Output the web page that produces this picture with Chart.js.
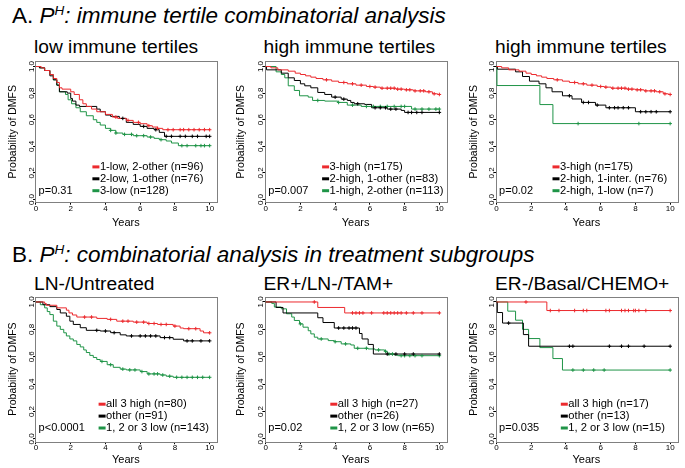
<!DOCTYPE html>
<html><head><meta charset="utf-8">
<script src="https://cdn.jsdelivr.net/npm/chart.js@4.4.1/dist/chart.umd.min.js"></script>
<style>
html,body{margin:0;padding:0;background:#fff;}
body{width:685px;height:468px;overflow:hidden;position:relative;font-family:"Liberation Sans",Arial,Helvetica,sans-serif;color:#000;}
.hdr{position:absolute;left:12px;font-size:22.5px;line-height:1;white-space:nowrap;}
.hdr sup{font-size:60%;vertical-align:0.6em;line-height:0;}
.ttl{position:absolute;font-size:19.2px;line-height:1;white-space:nowrap;}
canvas{position:absolute;}
</style></head><body>
<div class="hdr" style="top:5px">A. <i>P<sup>H</sup>: immune tertile combinatorial analysis</i></div>
<div class="hdr" style="top:244.3px">B. <i>P<sup>H</sup>: combinatorial analysis in treatment subgroups</i></div>
<script>
// ---------- tick labels ----------
const xTicks = [0, 2, 4, 6, 8, 10];
const yTicks = [0, 0.2, 0.4, 0.6, 0.8, 1.0];

// ---------- titles ----------
const panelTitles = ['low immune tertiles','high immune tertiles','high immune tertiles','LN-/Untreated','ER+/LN-/TAM+','ER-/Basal/CHEMO+'];
const pValues = ['p=0.31','p=0.007','p=0.02','p<0.0001','p=0.02','p=0.035'];

// ---------- series labels ----------
const A1_labels = ['1-low, 2-other (n=96)','2-low, 1-other (n=76)','3-low (n=128)'];
const A2_labels = ['3-high (n=175)','2-high, 1-other (n=83)','1-high, 2-other (n=113)'];
const A3_labels = ['3-high (n=175)','2-high, 1-inter. (n=76)','2-high, 1-low (n=7)'];
const B1_labels = ['all 3 high (n=80)','other (n=91)','1, 2 or 3 low (n=143)'];
const B2_labels = ['all 3 high (n=27)','other (n=26)','1, 2 or 3 low (n=65)'];
const B3_labels = ['all 3 high (n=17)','other (n=13)','1, 2 or 3 low (n=15)'];

// ---------- survival step curves [years, probability] ----------
const A1_red = [[0,1],[0.3,0.99],[0.5,0.97],[0.8,0.94],[1.0,0.91],[1.2,0.88],[1.35,0.84],[1.5,0.83],[2.0,0.81],[2.2,0.79],[2.5,0.75],[2.7,0.72],[2.9,0.70],[3.2,0.68],[3.5,0.66],[4.0,0.64],[4.4,0.62],[4.7,0.61],[5.2,0.595],[5.6,0.58],[6.0,0.57],[6.4,0.555],[6.7,0.545],[7.0,0.535],[7.3,0.525],[10,0.525]];
const A1_black = [[0,1],[0.2,0.99],[0.5,0.97],[0.8,0.93],[1.0,0.90],[1.2,0.86],[1.35,0.81],[1.8,0.80],[2.0,0.76],[2.1,0.74],[2.3,0.71],[2.5,0.70],[3.5,0.68],[3.7,0.66],[4.0,0.635],[4.3,0.625],[4.8,0.61],[5.2,0.58],[5.6,0.565],[6.0,0.55],[6.4,0.535],[6.8,0.525],[7.1,0.505],[7.4,0.475],[10,0.475]];
const A1_green = [[0,1],[0.2,0.99],[0.5,0.97],[0.8,0.94],[1.0,0.90],[1.2,0.86],[1.35,0.81],[1.7,0.79],[1.85,0.75],[2.05,0.72],[2.3,0.69],[2.55,0.66],[2.9,0.63],[3.3,0.60],[3.5,0.58],[3.7,0.56],[4.0,0.535],[4.3,0.52],[4.6,0.50],[5.0,0.49],[5.6,0.48],[6.4,0.47],[6.8,0.46],[7.1,0.45],[7.5,0.44],[7.8,0.425],[8.2,0.405],[10,0.405]];

const H3_red = [[0,1],[0.3,0.99],[0.7,0.975],[1.3,0.965],[1.7,0.95],[2.0,0.94],[2.3,0.93],[2.6,0.92],[2.9,0.91],[3.3,0.90],[3.8,0.89],[4.2,0.88],[4.7,0.87],[5.2,0.86],[5.8,0.85],[6.2,0.845],[6.6,0.837],[7.5,0.83],[8.0,0.825],[8.5,0.817],[9.2,0.81],[9.6,0.795],[9.9,0.79],[10,0.79]];
const A2_black = [[0,1],[0.05,0.975],[0.9,0.95],[1.3,0.915],[1.65,0.895],[2.0,0.87],[2.25,0.855],[2.6,0.84],[3.0,0.805],[3.4,0.79],[3.8,0.77],[4.35,0.755],[4.7,0.745],[4.9,0.73],[5.1,0.72],[5.7,0.715],[6.1,0.69],[7.0,0.68],[7.8,0.67],[8.0,0.655],[10,0.655]];
const A2_green = [[0,1],[0.6,0.96],[0.9,0.94],[1.1,0.915],[1.3,0.855],[1.65,0.82],[1.95,0.78],[2.45,0.77],[2.7,0.745],[3.4,0.74],[4.15,0.73],[4.7,0.71],[5.5,0.70],[8.4,0.68],[10,0.68]];
const A3_black = [[0,1],[0.05,0.98],[1.1,0.96],[1.5,0.925],[1.9,0.89],[2.45,0.87],[2.85,0.84],[3.2,0.81],[3.8,0.78],[4.35,0.756],[4.9,0.73],[5.7,0.71],[6.3,0.69],[8.0,0.66],[10,0.66]];
const A3_green = [[0,1],[0.03,0.857],[2.5,0.714],[3.25,0.571],[10,0.571]];

const B1_red = [[0,1],[0.5,0.988],[0.6,0.976],[1.2,0.957],[1.75,0.94],[1.9,0.92],[2.1,0.905],[2.35,0.89],[3.5,0.88],[4.1,0.873],[4.65,0.86],[5.6,0.853],[6.4,0.843],[7.0,0.836],[7.9,0.824],[8.3,0.81],[8.5,0.805],[9.45,0.788],[9.65,0.775],[10,0.775]];
const B1_black = [[0,1],[0.4,0.98],[0.8,0.966],[1.2,0.945],[1.4,0.92],[1.75,0.896],[1.95,0.86],[2.15,0.836],[2.55,0.812],[2.9,0.793],[3.7,0.788],[4.3,0.776],[4.85,0.76],[5.2,0.752],[7.15,0.74],[7.9,0.728],[8.5,0.716],[10,0.716]];
const B1_green = [[0,1],[0.25,0.98],[0.5,0.957],[0.65,0.93],[0.8,0.908],[1.0,0.86],[1.2,0.824],[1.4,0.8],[1.6,0.775],[1.75,0.752],[1.95,0.73],[2.15,0.716],[2.35,0.69],[2.55,0.672],[2.75,0.65],[2.9,0.631],[3.1,0.61],[3.3,0.595],[3.5,0.58],[3.7,0.566],[4.1,0.542],[4.45,0.523],[4.85,0.51],[5.2,0.504],[6.0,0.492],[6.4,0.475],[7.15,0.467],[7.5,0.458],[7.9,0.45],[10,0.45]];

const B2_red = [[0,1],[3.0,0.96],[4.55,0.92],[10,0.92]];
const B2_black = [[0,1],[0.6,0.96],[1.0,0.92],[3.0,0.885],[3.3,0.85],[3.95,0.81],[5.4,0.77],[5.55,0.73],[5.9,0.69],[6.2,0.62],[10,0.62]];
const B2_green = [[0,1],[0.35,0.99],[0.5,0.963],[0.9,0.95],[1.2,0.914],[1.5,0.89],[1.65,0.865],[1.95,0.84],[2.15,0.816],[2.45,0.79],[2.6,0.767],[2.8,0.743],[3.0,0.73],[3.6,0.718],[3.95,0.71],[4.35,0.694],[4.9,0.686],[5.1,0.662],[5.9,0.657],[6.3,0.65],[6.85,0.64],[7.0,0.62],[7.4,0.613],[7.6,0.608],[10,0.608]];

const B3_red = [[0,1],[2.9,0.9375],[10,0.9375]];
const B3_black = [[0,1],[0.05,0.923],[0.35,0.846],[1.55,0.762],[1.85,0.677],[10,0.677]];
const B3_green = [[0,1],[0.65,0.933],[1.1,0.867],[1.5,0.8],[1.85,0.733],[2.5,0.667],[3.25,0.587],[3.8,0.503],[10,0.503]];

// ---------- censoring times (years) ----------
const A1_red_c = [4.6,5.3,5.9,6.5,7.0,7.6,7.9,8.3,8.5,8.8,9.1,9.4,9.7,10];
const A1_black_c = [5.0,6.2,6.9,7.5,7.8,8.3,8.6,9.0,9.3,9.8,10];
const A1_green_c = [4.3,4.6,5.1,5.5,5.8,6.2,6.6,7.2,8.4,8.7,9.2,9.5,9.7,10];
const H3_red_c = [3.5,4.5,5.0,5.5,6.0,6.3,6.7,7.0,7.2,7.4,7.6,7.8,8.1,8.3,8.6,8.9,9.1,9.4,9.7,10];
const A2_black_c = [4.0,4.5,5.3,6.3,6.6,6.9,7.2,7.5,8.2,8.4,8.7,9.0,10];
const A2_green_c = [3.0,4.2,5.0,5.8,6.2,6.6,7.0,7.4,7.8,8.0,8.6,9.0,9.4,9.8,10];
const A3_black_c = [4.2,5.0,5.3,5.8,6.5,6.8,7.0,7.3,7.6,8.3,8.6,8.9,9.2,10];
const A3_green_c = [4.7,8.2,10];
const B1_red_c = [2.8,3.2,4.3,5.0,5.3,5.8,6.2,6.5,6.8,7.2,7.5,8.0,8.8,9.2,10];
const B1_black_c = [3.5,4.0,4.5,5.5,6.0,6.3,6.6,6.9,7.4,7.7,8.7,9.0,9.5,10];
const B1_green_c = [3.8,4.3,5.0,5.4,5.7,6.1,6.5,6.8,7.0,7.3,7.7,8.1,8.4,8.7,9.0,9.3,9.6,10];
const B2_red_c = [2.8,5.0,5.2,5.4,5.6,6.1,6.8,7.0,7.2,7.4,7.6,7.8,8.1,8.5,9.0,10];
const B2_black_c = [4.2,4.5,4.8,5.0,5.2,7.0,7.5,8.0,8.5,10];
const B2_green_c = [2.0,3.2,4.0,4.6,5.3,5.8,6.5,6.9,7.1,7.3,7.8,8.0,8.3,8.6,9.0,10];
const B3_red_c = [1.7,3.1,3.6,4.5,5.0,5.2,6.3,6.5,7.2,7.4,7.6,7.9,8.0,8.2,8.6,10];
const B3_black_c = [0.7,4.2,4.4,6.5,7.2,7.6,8.5,10];
const B3_green_c = [4.4,5.0,5.6,6.2,10];

// ---------- style / layout ----------
const FONT = '"Liberation Sans", Arial, Helvetica, sans-serif';
const COLORS = ['#ec2a2e', '#000000', '#1f9447'];
Chart.defaults.font.family = FONT;
Chart.defaults.color = '#000';

const cols = [
  {left:0,   width:228, frameL:35.1,  frameR:216.6, yTitlePad:7,    titleX:34,    legX:[64.8,71]},
  {left:228, width:228, frameL:264.8, frameR:446.3, yTitlePad:7,    titleX:263.5, legX:[64.8,73]},
  {left:456, width:229, frameL:495.6, frameR:677.1, yTitlePad:11.7, titleX:495,   legX:[64.4,72.7]}
];
const rows = [
  {top:56,  height:184, frameT:61.2,  frameB:202.2, xTitlePad:10.4, titleTop:36.5,  legBottom:11.5},
  {top:290, height:178, frameT:296.5, frameB:441.7, xTitlePad:1.4,  titleTop:274.2, legBottom:13.7}
];

const panels = [
  {row:0,col:0,curves:[A1_red,A1_black,A1_green],cens:[A1_red_c,A1_black_c,A1_green_c],labels:A1_labels},
  {row:0,col:1,curves:[H3_red,A2_black,A2_green],cens:[H3_red_c,A2_black_c,A2_green_c],labels:A2_labels},
  {row:0,col:2,curves:[H3_red,A3_black,A3_green],cens:[H3_red_c,A3_black_c,A3_green_c],labels:A3_labels},
  {row:1,col:0,curves:[B1_red,B1_black,B1_green],cens:[B1_red_c,B1_black_c,B1_green_c],labels:B1_labels},
  {row:1,col:1,curves:[B2_red,B2_black,B2_green],cens:[B2_red_c,B2_black_c,B2_green_c],labels:B2_labels},
  {row:1,col:2,curves:[B3_red,B3_black,B3_green],cens:[B3_red_c,B3_black_c,B3_green_c],labels:B3_labels}
];

function survAt(curve, t){
  let s = curve[0][1];
  for (const [x,y] of curve){ if (x <= t) s = y; else break; }
  return s;
}

const framePlugin = {
  id:'kmFrame',
  beforeDatasetsDraw(chart){
    const {ctx, chartArea:a} = chart;
    ctx.save(); ctx.strokeStyle = '#808080'; ctx.lineWidth = 1;
    ctx.strokeRect(Math.round(a.left)+0.5, Math.round(a.top)+0.5, Math.round(a.right-a.left), Math.round(a.bottom-a.top));
    ctx.restore();
  }
};
const legendPlugin = {
  id:'kmLegend',
  afterDraw(chart, args, opts){
    const {ctx, chartArea:a} = chart;
    const items = chart.data.datasets.filter(d => d.isCurve);
    ctx.save();
    ctx.font = '11.2px ' + FONT; ctx.textBaseline = 'middle'; ctx.textAlign = 'left';
    const n = items.length;
    items.forEach((d, i) => {
      const y = a.bottom - opts.bottom - (n-1-i)*11.9;
      const x = a.left + opts.x;
      ctx.strokeStyle = d.borderColor; ctx.lineWidth = 3;
      ctx.beginPath(); ctx.moveTo(x-7.5, y); ctx.lineTo(x-0.5, y); ctx.stroke();
      ctx.fillStyle = '#000'; ctx.fillText(d.label, x, y);
    });
    ctx.font = '11px ' + FONT;
    ctx.fillText(opts.p, a.left + 3.5, a.bottom - opts.bottom);
    ctx.restore();
  }
};

panels.forEach((p, idx) => {
  const c = cols[p.col], r = rows[p.row];
  const t = document.createElement('div');
  t.className = 'ttl'; t.textContent = panelTitles[idx];
  t.style.left = c.titleX + 'px'; t.style.top = r.titleTop + 'px';
  document.body.appendChild(t);

  const cv = document.createElement('canvas');
  cv.width = c.width; cv.height = r.height;
  cv.style.left = c.left + 'px'; cv.style.top = r.top + 'px';
  cv.style.width = c.width + 'px'; cv.style.height = r.height + 'px';
  document.body.appendChild(cv);

  const datasets = [];
  p.curves.forEach((curve, i) => {
    datasets.push({
      label: p.labels[i], isCurve: true,
      data: curve.map(([x,y]) => ({x, y})),
      stepped: true, borderColor: COLORS[i], borderWidth: 1,
      pointRadius: 0, fill: false, order: 10 + i
    });
  });
  p.cens.forEach((ct, i) => {
    datasets.push({
      label: p.labels[i] + ' censored',
      data: ct.map(x => ({x, y: survAt(p.curves[i], x)})),
      showLine: false, pointStyle: 'cross', pointRadius: 1.8,
      borderColor: COLORS[i], backgroundColor: COLORS[i], pointBorderWidth: 1, order: i
    });
  });

  new Chart(cv, {
    type: 'line',
    data: { datasets },
    plugins: [framePlugin, legendPlugin],
    options: {
      responsive: false, animation: false, devicePixelRatio: 1, events: [],
      layout: { padding: { top: r.frameT - r.top, right: c.left + c.width - c.frameR, left: 0, bottom: 0 } },
      plugins: {
        legend: { display: false }, tooltip: { enabled: false },
        kmLegend: { x: c.legX[p.row], bottom: r.legBottom, p: pValues[idx] }
      },
      scales: {
        x: {
          type: 'linear', min: -0.05, max: 10.4,
          afterBuildTicks: s => { s.ticks = xTicks.map(v => ({value: v})); },
          afterFit: s => { s.height = r.top + r.height - r.frameB; },
          grid: { drawOnChartArea: false, drawTicks: true, tickLength: 2.5, color: '#000' },
          border: { display: false },
          ticks: { font: { size: 8, lineHeight: 1 }, padding: 0, maxRotation: 0, autoSkip: false, callback: v => String(v) },
          title: { display: true, text: 'Years', font: { size: 11 }, padding: { top: 0, bottom: r.xTitlePad } }
        },
        y: {
          type: 'linear', min: -0.02, max: 1.04,
          afterBuildTicks: s => { s.ticks = yTicks.map(v => ({value: v})); },
          afterFit: s => { s.width = c.frameL - c.left; },
          grid: { drawOnChartArea: false, drawTicks: true, tickLength: 2, color: '#000' },
          border: { display: false },
          ticks: { font: { size: 8 }, minRotation: 90, maxRotation: 90, crossAlign: 'center', padding: -4, autoSkip: false, callback: v => v.toFixed(1) },
          title: { display: true, text: 'Probability of DMFS', font: { size: 10.5 }, padding: { top: c.yTitlePad, bottom: 0 } }
        }
      }
    }
  });
});
</script>
</body></html>
